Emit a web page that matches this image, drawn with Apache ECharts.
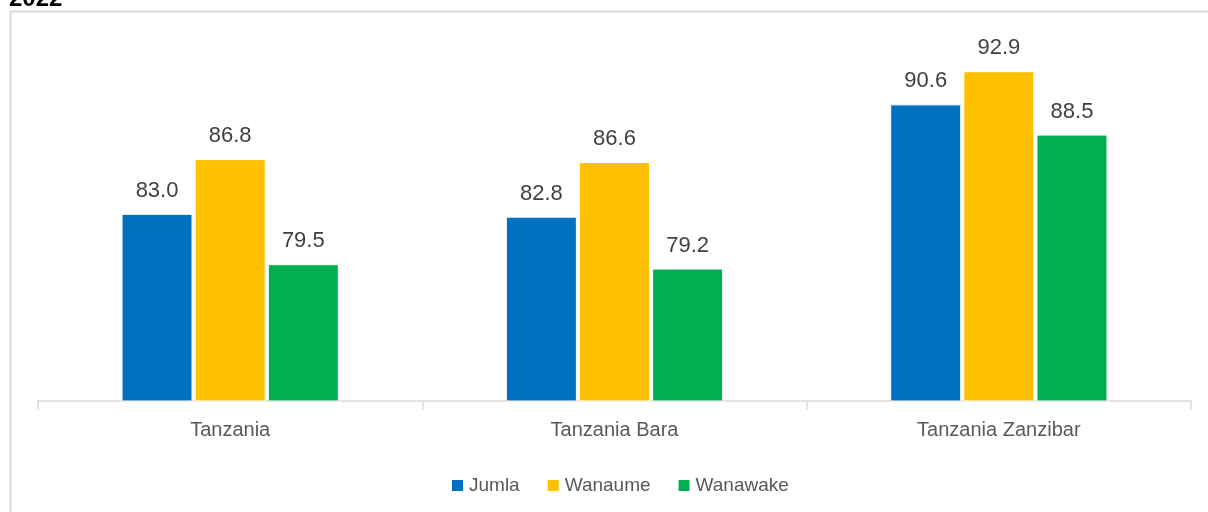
<!DOCTYPE html>
<html>
<head>
<meta charset="utf-8">
<script src="https://cdn.jsdelivr.net/npm/echarts@6/dist/echarts.min.js"></script>
<style>
    html, body { margin: 0; padding: 0; background: #fff; }
    #chart { width: 1208px; height: 512px; }
</style>
</head>
<body>
<div id="chart"></div>
<script>
// Chart data
var categories = ['Tanzania', 'Tanzania Bara', 'Tanzania Zanzibar'];
var seriesNames = ['Jumla', 'Wanaume', 'Wanawake'];
var jumla = [83.0, 82.8, 90.6];
var wanaume = [86.8, 86.6, 92.9];
var wanawake = [79.5, 79.2, 88.5];
var colors = ['#0070c0', '#ffc000', '#00b050'];

var FONT = '"Liberation Sans", Arial, sans-serif';

var chart = echarts.init(document.getElementById('chart'));

// Shared bar label
var barLabel = {
    show: true,
    position: 'top',
    distance: 12,
    color: '#404040',
    fontSize: 22,
    fontFamily: FONT,
    formatter: function (p) { return p.value.toFixed(1); }
};

function makeSeries(name, data) {
    return {
        name: name,
        type: 'bar',
        data: data,
        barWidth: 71,
        barGap: '3%',
        label: barLabel,
        itemStyle: { borderColor: '#fff', borderWidth: 1 }
    };
}

chart.setOption({
    animation: false,
    color: colors,
    textStyle: { fontFamily: FONT },
    graphic: [
        {
            type: 'rect',
            shape: { x: 10.5, y: 11.5, width: 1300, height: 600 },
            style: { fill: 'none', stroke: '#d9d9d9', lineWidth: 2 },
            silent: true
        },
        {
            type: 'text',
            left: 9,
            top: -13,
            style: { text: '2022', font: 'bold 24px "Liberation Sans", Arial, sans-serif', fill: '#000' }
        }
    ],
    grid: { left: 38, right: 17, top: 41, bottom: 111 },
    legend: {
        data: seriesNames,
        left: 445,
        top: 471,
        itemWidth: 13,
        itemHeight: 13,
        itemGap: 26,
        icon: 'rect',
        textStyle: { fontSize: 19, color: '#595959', fontFamily: FONT }
    },
    xAxis: {
        type: 'category',
        data: categories,
        axisLine: { lineStyle: { color: '#d9d9d9', width: 1.5 } },
        axisTick: { show: true, length: 8, lineStyle: { color: '#d9d9d9', width: 1.5 } },
        axisLabel: { fontSize: 20, color: '#595959', margin: 19, fontFamily: FONT }
    },
    yAxis: {
        type: 'value',
        min: 70,
        max: 95,
        show: false,
        splitLine: { show: false }
    },
    series: [
        makeSeries(seriesNames[0], jumla),
        makeSeries(seriesNames[1], wanaume),
        makeSeries(seriesNames[2], wanawake)
    ]
});
</script>
</body>
</html>
